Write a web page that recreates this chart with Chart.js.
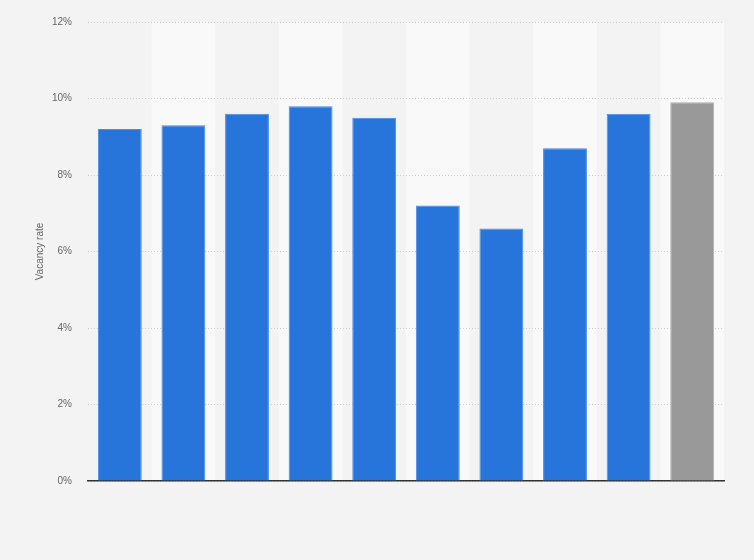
<!DOCTYPE html>
<html>
<head>
<meta charset="utf-8">
<script src="https://cdn.jsdelivr.net/npm/chart.js@4"></script>
<style>
  html, body { margin: 0; padding: 0; background: #f3f3f3; }
  #wrap { width: 754px; height: 560px; }
</style>
</head>
<body>
<div id="wrap"><canvas id="vacancyChart"></canvas></div>
<script>
// Chart data
const categories = ['2013', '2014', '2015', '2016', '2017', '2018', '2019', '2020', '2021', '2022'];
const vacancyRates = [9.2, 9.3, 9.6, 9.8, 9.5, 7.2, 6.6, 8.7, 9.6, 9.9];
const barColors = ['#2775db', '#2775db', '#2775db', '#2775db', '#2775db', '#2775db', '#2775db', '#2775db', '#2775db', '#999999'];
const yTicks = [0, 2, 4, 6, 8, 10, 12];

// alternating column bands, drawn before grid and bars
const bandPlugin = {
    id: 'bands',
    beforeDraw(chart) {
        const { ctx, chartArea, scales } = chart;
        const x = scales.x;
        const step = x.width / categories.length;
        ctx.save();
        ctx.fillStyle = '#f9f9f9';
        categories.forEach((c, i) => {
            if (i % 2 === 1) {
                const cx = x.getPixelForValue(i);
                ctx.fillRect(cx - step / 2, chartArea.top, step, chartArea.bottom - chartArea.top);
            }
        });
        ctx.restore();
    }
};

document.addEventListener('DOMContentLoaded', function() {
    const ctx = document.getElementById('vacancyChart');
    new Chart(ctx, {
        type: 'bar',
        data: {
            labels: categories,
            datasets: [{
                label: 'Vacancy rate',
                data: vacancyRates,
                backgroundColor: barColors,
                borderColor: barColors.map(c => c === '#999999' ? '#b0b0b0' : '#4a8de6'),
                borderWidth: 1,
                categoryPercentage: 0.69,
                barPercentage: 1
            }]
        },
        options: {
            responsive: true,
            maintainAspectRatio: false,
            animation: false,
            layout: {
                padding: { top: 18, right: 30, left: 30, bottom: 0 }
            },
            plugins: {
                legend: { display: false },
                tooltip: { enabled: false }
            },
            scales: {
                x: {
                    ticks: { display: false },
                    grid: { display: false },
                    border: { display: true, color: '#333333', width: 1.5 },
                    afterFit(scale) { scale.height = 79; }
                },
                y: {
                    min: 0,
                    max: 12,
                    afterBuildTicks(scale) {
                        scale.ticks = yTicks.map(v => ({ value: v }));
                    },
                    afterFit(scale) { scale.width = 58; },
                    ticks: {
                        color: '#666666',
                        padding: 16,
                        font: { family: 'Arial, "Liberation Sans", sans-serif', size: 10 },
                        callback: v => v + '%'
                    },
                    grid: {
                        color: '#cfcfcf',
                        drawTicks: false
                    },
                    border: { display: false, dash: [1, 2] },
                    title: {
                        display: true,
                        text: 'Vacancy rate',
                        color: '#666666',
                        font: { family: 'Arial, "Liberation Sans", sans-serif', size: 10 },
                        padding: { top: 4, bottom: 0 }
                    }
                }
            }
        },
        plugins: [bandPlugin]
    });
});
</script>
</body>
</html>
